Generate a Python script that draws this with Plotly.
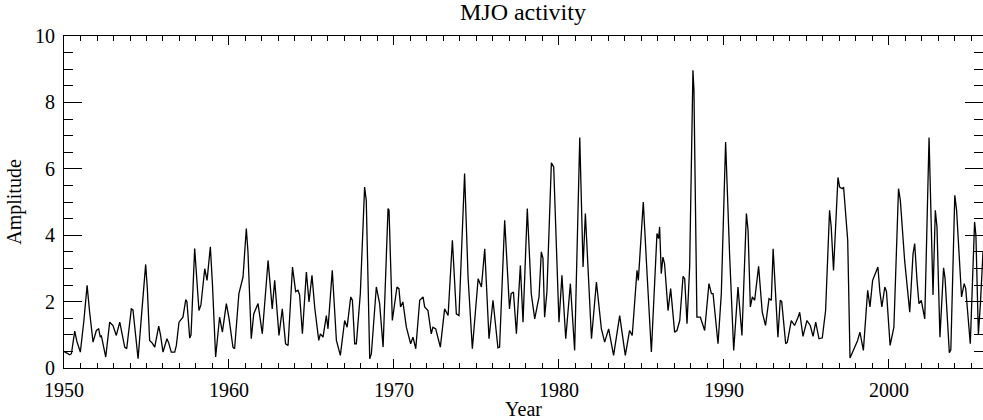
import plotly.graph_objects as go

years = [
    1950.00, 1950.15, 1950.35, 1950.45, 1950.65, 1950.78, 1950.99, 1951.20, 1951.40, 1951.55,
    1951.76, 1951.96, 1952.10, 1952.20, 1952.26, 1952.53, 1952.77, 1952.97, 1953.17, 1953.38,
    1953.55, 1953.68, 1953.80, 1954.00, 1954.08, 1954.18, 1954.35, 1954.49, 1954.70, 1954.95,
    1955.05, 1955.19, 1955.35, 1955.50, 1955.74, 1955.85, 1956.00, 1956.24, 1956.35, 1956.50,
    1956.71, 1956.81, 1956.97, 1957.21, 1957.38, 1957.45, 1957.62, 1957.70, 1957.92, 1958.18,
    1958.30, 1958.53, 1958.67, 1958.87, 1959.00, 1959.19, 1959.43, 1959.60, 1959.84, 1960.00,
    1960.24, 1960.34, 1960.60, 1960.85, 1961.05, 1961.15, 1961.35, 1961.50, 1961.76, 1962.02,
    1962.37, 1962.57, 1962.62, 1962.77, 1963.03, 1963.23, 1963.43, 1963.58, 1963.85, 1964.04,
    1964.18, 1964.28, 1964.45, 1964.69, 1964.85, 1965.03, 1965.20, 1965.44, 1965.54, 1965.70,
    1965.90, 1966.00, 1966.26, 1966.51, 1966.75, 1967.01, 1967.16, 1967.38, 1967.48, 1967.62,
    1967.72, 1967.96, 1968.22, 1968.32, 1968.53, 1968.63, 1968.93, 1969.13, 1969.34, 1969.64,
    1969.70, 1969.90, 1970.18, 1970.30, 1970.40, 1970.54, 1970.75, 1971.01, 1971.15, 1971.32,
    1971.56, 1971.76, 1971.86, 1972.06, 1972.26, 1972.36, 1972.53, 1972.81, 1973.07, 1973.28,
    1973.54, 1973.78, 1973.94, 1974.28, 1974.49, 1974.75, 1975.10, 1975.30, 1975.50, 1975.76,
    1976.00, 1976.30, 1976.40, 1976.71, 1977.00, 1977.10, 1977.24, 1977.42, 1977.66, 1977.82,
    1978.08, 1978.32, 1978.53, 1978.79, 1978.93, 1979.03, 1979.13, 1979.27, 1979.54, 1979.68,
    1980.00, 1980.18, 1980.41, 1980.69, 1980.95, 1981.26, 1981.46, 1981.60, 1981.97, 1982.27,
    1982.57, 1982.77, 1983.01, 1983.31, 1983.68, 1984.02, 1984.28, 1984.44, 1984.73, 1984.81,
    1985.11, 1985.35, 1985.60, 1985.94, 1986.04, 1986.10, 1986.20, 1986.30, 1986.40, 1986.61,
    1986.77, 1987.01, 1987.15, 1987.32, 1987.52, 1987.62, 1987.76, 1987.92, 1988.12, 1988.18,
    1988.36, 1988.57, 1988.83, 1989.09, 1989.24, 1989.34, 1989.64, 1989.84, 1990.10, 1990.34,
    1990.59, 1990.85, 1991.09, 1991.36, 1991.46, 1991.60, 1991.72, 1991.86, 1992.10, 1992.32,
    1992.52, 1992.73, 1992.87, 1992.98, 1993.27, 1993.41, 1993.50, 1993.74, 1993.84, 1994.08,
    1994.28, 1994.49, 1994.59, 1994.79, 1995.03, 1995.23, 1995.40, 1995.56, 1995.76, 1995.96,
    1996.16, 1996.40, 1996.50, 1996.64, 1996.91, 1997.01, 1997.17, 1997.25, 1997.50, 1997.64,
    1997.90, 1998.10, 1998.24, 1998.45, 1998.71, 1998.85, 1999.01, 1999.17, 1999.33, 1999.45,
    1999.57, 1999.75, 1999.85, 2000.07, 2000.30, 2000.58, 2000.69, 2000.95, 2001.26, 2001.46,
    2001.56, 2001.70, 2001.82, 2001.96, 2002.17, 2002.43, 2002.55, 2002.67, 2002.81, 2002.91,
    2003.09, 2003.31, 2003.40, 2003.66, 2003.75, 2003.99, 2004.10, 2004.40, 2004.56, 2004.65,
    2004.93, 2005.19, 2005.27, 2005.42, 2005.55, 2005.70,
]

amplitude = [
    0.50, 0.45, 0.40, 0.43, 1.11, 0.80, 0.48, 1.40, 2.49, 1.70,
    0.78, 1.13, 1.18, 0.93, 0.98, 0.33, 1.38, 1.28, 0.98, 1.38,
    1.00, 0.63, 0.58, 1.60, 1.78, 1.75, 0.90, 0.28, 1.60, 3.12,
    2.40, 0.83, 0.75, 0.63, 1.26, 1.00, 0.48, 0.88, 0.75, 0.48,
    0.48, 0.68, 1.38, 1.53, 2.06, 2.00, 0.90, 1.00, 3.60, 1.73,
    1.90, 2.99, 2.64, 3.65, 2.50, 0.33, 1.53, 1.08, 1.94, 1.50,
    0.63, 0.58, 2.24, 2.74, 4.20, 3.50, 0.88, 1.63, 1.94, 1.03,
    3.24, 2.00, 1.78, 2.64, 0.98, 1.78, 0.73, 0.68, 3.04, 2.30,
    2.34, 2.20, 1.03, 2.89, 1.99, 2.79, 1.80, 0.83, 1.03, 0.93,
    1.58, 1.18, 2.94, 0.83, 0.38, 1.43, 1.23, 2.14, 2.04, 0.73,
    0.73, 2.24, 5.45, 5.05, 0.28, 0.43, 2.44, 1.94, 0.63, 4.80,
    4.75, 1.43, 2.44, 2.39, 1.84, 1.99, 1.23, 0.73, 0.93, 0.58,
    2.04, 2.14, 1.84, 1.73, 1.03, 1.23, 1.18, 0.63, 1.78, 1.58,
    3.85, 1.63, 1.58, 5.86, 2.74, 0.58, 2.69, 2.44, 3.59, 0.88,
    2.04, 0.61, 0.63, 4.45, 1.78, 2.24, 2.29, 1.03, 3.09, 1.38,
    4.80, 2.24, 1.48, 2.14, 3.50, 3.30, 1.53, 2.30, 6.18, 6.06,
    1.38, 2.79, 0.88, 2.54, 0.53, 6.94, 3.04, 4.65, 0.88, 2.59,
    1.18, 0.78, 1.18, 0.38, 1.58, 0.38, 1.13, 0.98, 2.94, 2.64,
    5.00, 2.74, 0.48, 4.05, 3.90, 4.25, 2.84, 3.34, 3.14, 1.73,
    2.39, 1.08, 1.13, 1.43, 2.76, 2.69, 1.33, 3.04, 8.97, 8.37,
    1.53, 1.53, 1.13, 2.54, 2.24, 2.24, 0.73, 2.24, 6.81, 3.44,
    0.53, 2.44, 0.98, 4.65, 4.15, 1.84, 2.14, 2.04, 3.06, 1.68,
    1.28, 2.09, 2.04, 3.59, 0.93, 2.04, 2.00, 0.73, 0.78, 1.43,
    1.28, 1.53, 1.68, 0.95, 1.43, 1.28, 0.95, 1.38, 0.88, 0.91,
    1.73, 4.75, 4.25, 2.94, 5.74, 5.45, 5.40, 5.45, 3.85, 0.30,
    0.63, 0.83, 1.08, 0.53, 2.34, 1.84, 2.64, 2.84, 3.04, 2.30,
    1.84, 2.44, 2.30, 0.68, 1.23, 5.40, 5.05, 3.24, 1.68, 3.44,
    3.75, 2.64, 1.94, 2.04, 1.48, 6.94, 4.50, 2.20, 4.75, 4.25,
    0.93, 3.02, 2.70, 0.46, 0.55, 5.20, 4.75, 2.14, 2.54, 2.40,
    0.73, 4.40, 4.00, 1.00, 2.00, 3.50,
]

x_range = [1950, 2005.7]
y_range = [0, 10]

serif = "Liberation Serif, Times New Roman, serif"

fig = go.Figure()
fig.add_trace(go.Scatter(
    x=years, y=amplitude, mode="lines",
    line=dict(color="black", width=1.3),
    showlegend=False, hoverinfo="skip",
))

fig.update_layout(
    width=983, height=420,
    margin=dict(l=64, r=0, t=36, b=52),
    paper_bgcolor="white", plot_bgcolor="white",
    title=dict(text="MJO activity", x=0.532, xanchor="center", y=0.993, yanchor="top",
               font=dict(family=serif, size=24, color="black")),
    font=dict(family=serif, size=20, color="black"),
)

fig.update_xaxes(
    range=x_range, dtick=10, tick0=1950,
    showgrid=False, zeroline=False,
    showline=True, linecolor="black", linewidth=1, mirror="allticks",
    ticks="inside", ticklen=9, tickwidth=1, tickcolor="black",
    minor=dict(dtick=1, ticks="inside", ticklen=5, tickwidth=1, tickcolor="black", showgrid=False),
    ticklabelstandoff=4,
    title=dict(text="Year", font=dict(family=serif, size=20), standoff=0),
)
fig.update_yaxes(
    range=y_range, dtick=2, tick0=0,
    showgrid=False, zeroline=False,
    showline=True, linecolor="black", linewidth=1, mirror="allticks",
    ticks="inside", ticklen=18, tickwidth=1, tickcolor="black",
    minor=dict(dtick=0.5, ticks="inside", ticklen=9, tickwidth=1, tickcolor="black", showgrid=False),
    ticklabelstandoff=4,
    title=dict(text="Amplitude", font=dict(family=serif, size=20), standoff=8),
)

fig.write_html("out.html")
